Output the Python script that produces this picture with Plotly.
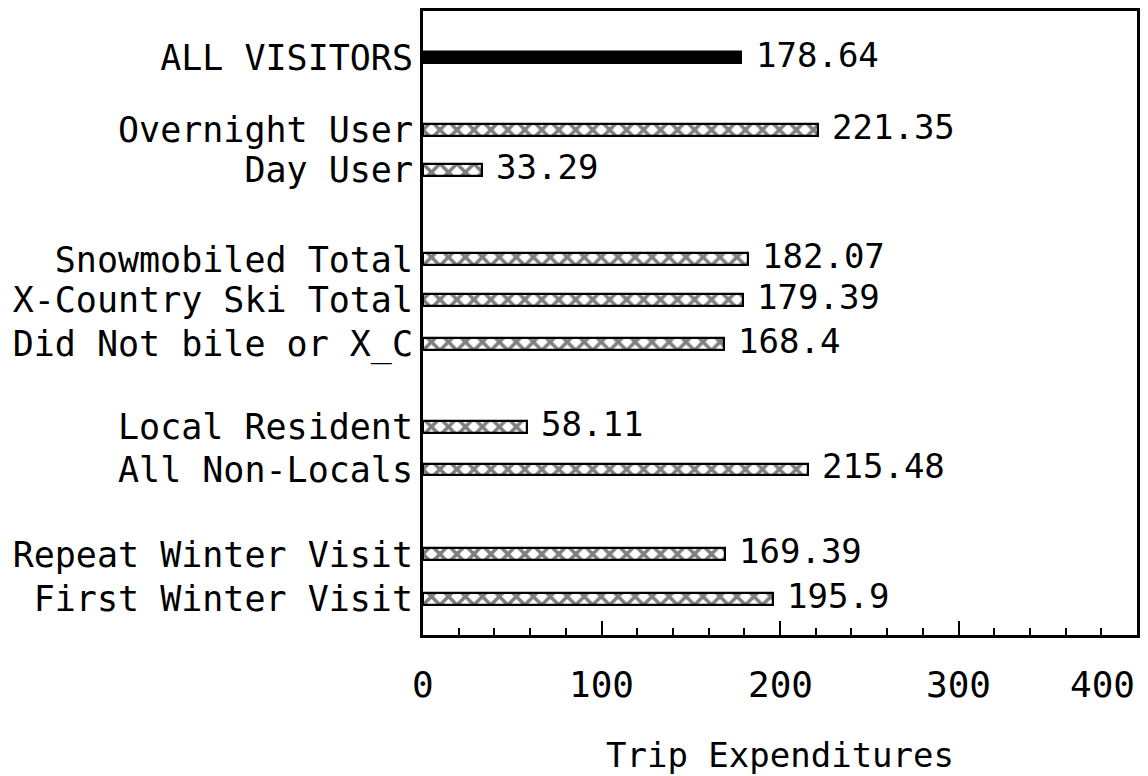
import plotly.graph_objects as go

# Trip expenditure by visitor segment
categories = [
    "ALL VISITORS",
    "Overnight User",
    "Day User",
    "Snowmobiled Total",
    "X-Country Ski Total",
    "Did Not bile or X_C",
    "Local Resident",
    "All Non-Locals",
    "Repeat Winter Visit",
    "First Winter Visit",
]
expenditures = [178.64, 221.35, 33.29, 182.07, 179.39, 168.4, 58.11, 215.48, 169.39, 195.9]

# Row slots on the category axis (groups separated by blank space)
row_slots = [1.1, 2.8, 3.75, 5.85, 6.8, 7.85, 9.8, 10.8, 12.8, 13.85]

x_ticks = [0, 100, 200, 300, 400]
x_title = "Trip Expenditures"

FONT = "DejaVu Sans Mono"
BAR_W = 0.28

fig = go.Figure()

# Overall bar drawn solid
fig.add_trace(go.Bar(
    x=expenditures[:1], y=row_slots[:1], orientation="h", width=BAR_W,
    marker=dict(color="black", line=dict(color="black", width=1.5)),
    showlegend=False, hoverinfo="skip",
))

# Segment bars drawn with a cross-hatch fill
fig.add_trace(go.Bar(
    x=expenditures[1:], y=row_slots[1:], orientation="h", width=BAR_W,
    marker=dict(
        color="white",
        line=dict(color="black", width=2.2),
        pattern=dict(shape="x", size=12, solidity=0.5, fgcolor="black",
                     bgcolor="white", fillmode="overlay"),
    ),
    showlegend=False, hoverinfo="skip",
))

# Value labels at the end of each bar
for v, y in zip(expenditures, row_slots):
    fig.add_annotation(
        x=v, y=y, text=f"{v:g}", showarrow=False, xanchor="left",
        yanchor="middle", xshift=12, yshift=3,
        font=dict(family=FONT, size=34, color="black"),
    )

# X tick labels (last one kept inside the frame)
for i, t in enumerate(x_ticks):
    fig.add_annotation(
        x=t, y=-0.08, xref="x", yref="paper", text=str(t), showarrow=False,
        xanchor="right" if i == len(x_ticks) - 1 else "center", yanchor="middle",
        font=dict(family=FONT, size=36, color="black"),
    )

fig.add_annotation(
    x=200, y=-0.192, xref="x", yref="paper", text=x_title, showarrow=False,
    xanchor="center", yanchor="middle",
    font=dict(family=FONT, size=34, color="black"),
)

fig.update_layout(
    width=1148, height=776,
    margin=dict(l=423, r=8, t=8, b=141),
    paper_bgcolor="white", plot_bgcolor="white",
    font=dict(family=FONT, color="black"),
    bargap=0,
)

fig.update_xaxes(
    range=[0, 400], tickvals=x_ticks, showticklabels=False,
    ticks="inside", ticklen=14, tickwidth=2, tickcolor="black",
    minor=dict(dtick=20, ticks="inside", ticklen=7, tickwidth=1.5, tickcolor="black"),
    showline=True, linecolor="black", linewidth=3, mirror=True,
    showgrid=False, zeroline=False,
)

fig.update_yaxes(
    range=[14.7, 0], tickvals=row_slots, ticktext=categories,
    ticks="", showline=True, linecolor="black", linewidth=3, mirror=True,
    showgrid=False, zeroline=False,
    tickfont=dict(family=FONT, size=35, color="black"),
    ticklabelstandoff=0,
)

fig.write_html("out.html")
